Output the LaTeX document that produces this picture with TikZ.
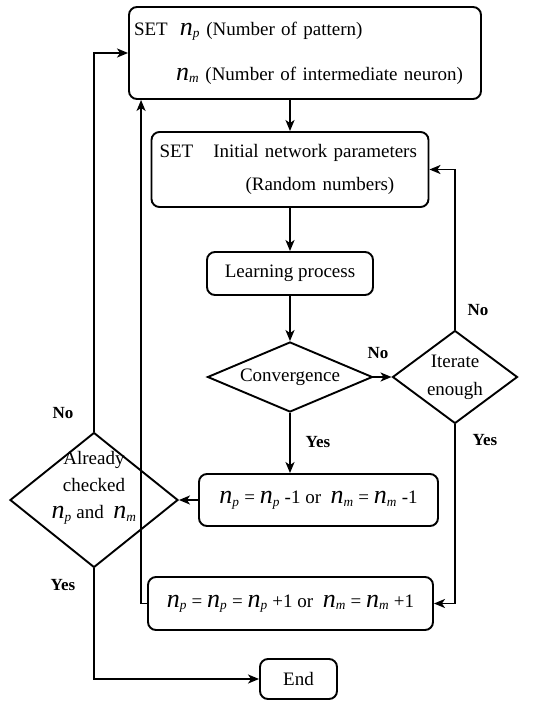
\documentclass[tikz,border=0pt]{standalone}
\usepackage{fontspec}
\setmainfont{Liberation Serif}
\usepackage{tikz}
\usetikzlibrary{arrows.meta, calc, positioning, shapes.geometric}
\newcommand{\flowfont}{\fontsize{19}{22}\selectfont}
\newcommand{\nvar}[1]{{\fontsize{26}{22}\selectfont\itshape n}\textsubscript{\itshape #1}}
\tikzset{
  procbox/.style   = {draw, rounded corners=8pt, line width=1.9pt, inner sep=0pt,
                      font=\flowfont},
  decision/.style  = {diamond, draw, line width=1.9pt, inner sep=0pt,
                      font=\flowfont, align=center},
  flowline/.style  = {line width=1.9pt},
  flowarrow/.style = {flowline, -{Stealth[length=11pt, width=9pt, inset=3pt]}},
  answer/.style    = {font=\fontsize{17}{20}\selectfont\bfseries, inner sep=1pt},
}

\begin{document}
\begin{tikzpicture}[x=1pt, y=-1pt]
    \useasboundingbox (0,0) rectangle (557,701);
    \node[procbox, minimum width=352pt, minimum height=92pt, text width=342pt,
      inner xsep=5pt, align=left] (setnp) at (305,53)
      {SET\hspace{12pt}\nvar{p} (Number of pattern)\\[23pt]
      \hspace*{42pt}\nvar{m} (Number of intermediate neuron)};
    \node[procbox, minimum width=277pt, minimum height=75pt, text width=261pt,
      inner xsep=8pt, align=left] (init) at (290,169.5)
      {SET\hspace{20pt}Initial network parameters\\[11pt]
      \hspace*{86pt}(Random numbers)};
    \node[procbox, minimum width=166pt, minimum height=43pt] (learn) at (290,273.5)
      {Learning process};
    \node[decision, aspect=2.36, minimum width=165pt, minimum height=70pt]
      (conv) at (290,377) {Convergence};
    \node[decision, aspect=1.34, minimum width=125pt, minimum height=93pt]
      (iter) at (455,377) {Iterate\\[6pt]enough};
    \node[procbox, minimum width=239pt, minimum height=52pt] (minus) at (318.5,500)
      {\nvar{p} = \nvar{p} -1 or\ \ \nvar{m} = \nvar{m} -1};
    \node[decision, minimum width=168pt, minimum height=135pt,
      label={[font=\flowfont, align=center, yshift=12pt]center:{Already\\[5pt]
      checked\\[5pt]\nvar{p} and\ \ \nvar{m}}}] (chk) at (94,500) {};
    \node[procbox, minimum width=285pt, minimum height=53pt] (plus) at (290.5,603.5)
      {\nvar{p} = \nvar{p} = \nvar{p} +1 or\ \ \nvar{m} = \nvar{m} +1};
    \node[procbox, minimum width=77pt, minimum height=40pt] (endbox) at (298.5,679)
      {End};
    \draw[flowarrow] (setnp.south -| init.north) -- (init.north);
    \draw[flowarrow] (init) -- (learn);
    \draw[flowarrow] (learn) -- (conv);
    \draw[flowarrow] (conv) -- (iter);
    \draw[flowarrow] (iter.north) |- (init.east);
    \draw[flowarrow] (iter.south) |- (plus.east);
    \draw[flowarrow] (conv.south) -- (conv.south |- minus.north);
    \draw[flowarrow] (minus) -- (chk);
    \draw[flowarrow] (chk.north) |- (setnp.west);
    \draw[flowarrow] (plus.west) -| ([xshift=13pt]setnp.south west);
    \draw[flowarrow] (chk.south) |- (endbox.west);
    \node[answer] (noConv)  at (378,353) {No};
    \node[answer] (noIter)  at (478,310) {No};
    \node[answer] (yesIter) at (485,440) {Yes};
    \node[answer] (yesConv) at (318,442) {Yes};
    \node[answer] (noChk)   at (63,413)  {No};
    \node[answer] (yesChk)  at (63,585)  {Yes};
  \end{tikzpicture}
\end{document}
